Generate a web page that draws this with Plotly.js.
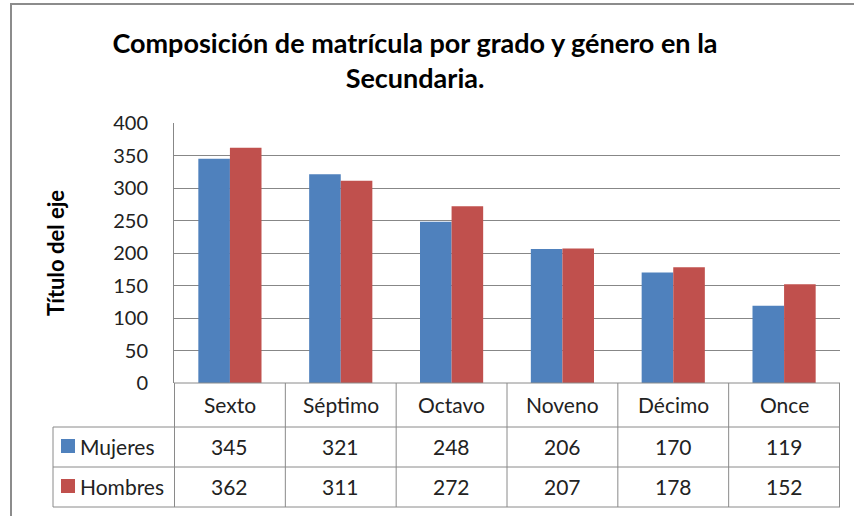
<!DOCTYPE html>
<html><head><meta charset="utf-8">
<script src="https://cdn.plot.ly/plotly-3.0.1.min.js"></script>
<style>
html,body{margin:0;padding:0;background:#fff;}
#wrap{position:relative;width:854px;height:516px;}
#chart{width:854px;height:516px;}
#frame{position:absolute;left:10px;top:3px;width:900px;height:600px;border:2px solid #8c8c8c;pointer-events:none;box-sizing:border-box;}
</style></head>
<body><div id="wrap"><div id="chart"></div><div id="frame"></div></div>
<script>
const categories = ["Sexto","Séptimo","Octavo","Noveno","Décimo","Once"];
const seriesNames = ["Mujeres","Hombres"];
const mujeres = [345,321,248,206,170,119];
const hombres = [362,311,272,207,178,152];
const yTicks = [0,50,100,150,200,250,300,350,400];
const colors = ["#4F81BD","#C0504D"];
const FONT = "Lato, 'Open Sans', sans-serif";

const series = [mujeres, hombres];
const traces = series.map((vals,i)=>({
  type:"bar", x:categories, y:vals, name:seriesNames[i],
  marker:{color:colors[i]}, hoverinfo:"skip"
}));

// plot area geometry (pixels)
const L=174, R=840, T=123, B=383;
const W=R-L, H=B-T;
const px = p => (p-L)/W;
const py = p => (B-p)/H;

const lineC = "#8a8a8a";
const shapes = [];
const ann = [];
const rowBot=507, tableLeft=53;
shapes.push({type:"line",xref:"paper",yref:"paper",x0:0,x1:1,y0:py(B),y1:py(B),line:{color:lineC,width:1}});
[427,467,507].forEach(yy=>shapes.push({type:"line",xref:"paper",yref:"paper",x0:px(tableLeft),x1:1,y0:py(yy),y1:py(yy),line:{color:lineC,width:1}}));
for(let k=0;k<=categories.length;k++){
  shapes.push({type:"line",xref:"x",yref:"paper",x0:k-0.5,x1:k-0.5,y0:py(B),y1:py(rowBot),line:{color:lineC,width:1}});
}
shapes.push({type:"line",xref:"paper",yref:"paper",x0:px(tableLeft),x1:px(tableLeft),y0:py(427),y1:py(rowBot),line:{color:lineC,width:1}});

const TFS = 21;
categories.forEach(c=>ann.push({xref:"x",yref:"paper",x:c,y:py(404),text:c,showarrow:false,xanchor:"center",yanchor:"middle",font:{family:FONT,size:TFS,color:"#222"}}));
const rowCenters=[446,486];
series.forEach((vals,i)=>{
  vals.forEach((v,j)=>ann.push({xref:"x",yref:"paper",x:categories[j],y:py(rowCenters[i]),text:String(v),showarrow:false,xanchor:"center",yanchor:"middle",font:{family:FONT,size:TFS,color:"#222"}}));
  shapes.push({type:"rect",xref:"paper",yref:"paper",x0:px(61),x1:px(75),y0:py(rowCenters[i]+7),y1:py(rowCenters[i]-7),fillcolor:colors[i],line:{width:0}});
  ann.push({xref:"paper",yref:"paper",x:px(78),y:py(rowCenters[i]),text:seriesNames[i],showarrow:false,xanchor:"left",yanchor:"middle",font:{family:FONT,size:TFS,color:"#222"}});
});

const layout = {
  width:854, height:516,
  margin:{l:L,r:854-R,t:T,b:516-B,pad:0},
  paper_bgcolor:"#fff", plot_bgcolor:"#fff",
  showlegend:false,
  bargap:0.43, bargroupgap:0,
  title:{text:"Composición de matrícula por grado y género en la<br>Secundaria.",
    x:415/854, xanchor:"center", y:1-53/516, yanchor:"top", yref:"container",
    font:{family:FONT,size:27,color:"#000",weight:"bold"}},
  xaxis:{type:"category", showticklabels:false, ticks:"", showgrid:false, zeroline:false, showline:false, fixedrange:true},
  yaxis:{range:[0,400], tickvals:yTicks, ticktext:yTicks.map(String), showgrid:true, gridcolor:"#878787", gridwidth:1,
    zeroline:false, showline:true, linecolor:"#878787", linewidth:1, ticks:"", ticklabelstandoff:21,
    tickfont:{family:FONT,size:20,color:"#222"},
    title:{text:"Título del eje", font:{family:FONT,size:22,color:"#000",weight:"bold"}, standoff:42}},
  shapes:shapes, annotations:ann
};
Plotly.newPlot("chart", traces, layout, {staticPlot:true, displayModeBar:false});
</script></body></html>
